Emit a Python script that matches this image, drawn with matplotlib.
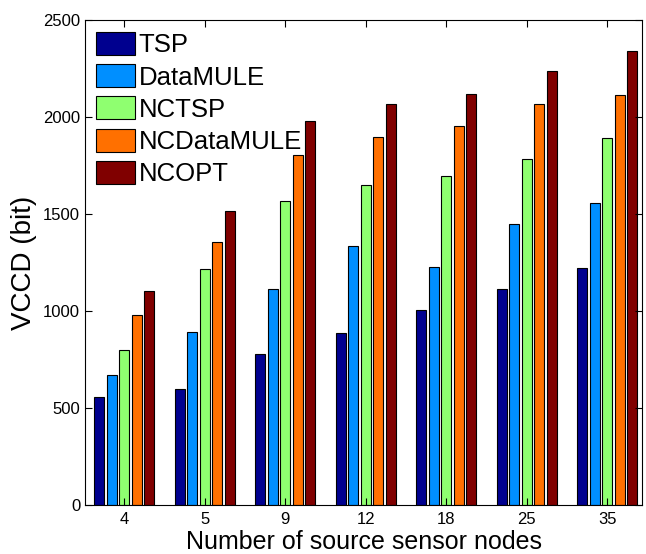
import matplotlib
matplotlib.use("Agg")
import matplotlib.pyplot as plt
import numpy as np

# Datos
grupos = ["4", "5", "9", "12", "18", "25", "35"]
series = ["TSP", "DataMULE", "NCTSP", "NCDataMULE", "NCOPT"]
tsp = [555, 600, 780, 887, 1003, 1115, 1222]
datamule = [668, 890, 1115, 1335, 1225, 1448, 1558]
nctsp = [800, 1215, 1568, 1652, 1695, 1782, 1890]
ncdatamule = [980, 1355, 1802, 1897, 1955, 2066, 2115]
ncopt = [1105, 1518, 1980, 2066, 2119, 2239, 2339]
colores = ["#00008F", "#008FFF", "#8FFF70", "#FF7000", "#800000"]

plt.rcParams["font.family"] = ["Liberation Sans", "DejaVu Sans"]

fig = plt.figure(figsize=(6.46, 5.54), dpi=100)
ax = fig.add_axes([85 / 646, 49 / 554, 557 / 646, 485 / 554])

x = np.arange(1, len(grupos) + 1)
paso = 0.155
ancho = 0.125
for i, (nombre, vals) in enumerate(zip(series, [tsp, datamule, nctsp, ncdatamule, ncopt])):
    ax.bar(x + (i - 2) * paso, vals, width=ancho, color=colores[i],
           edgecolor="black", linewidth=0.8, label=nombre)

ax.set_xlim(0.513, 7.43)
ax.set_ylim(0, 2500)
ax.set_xticks(x)
ax.set_xticklabels(grupos)
ax.set_yticks(np.arange(0, 2501, 500))
ax.tick_params(direction="in", top=True, right=True, labelsize=12, length=5)
ax.tick_params(axis="x", pad=5)
ax.set_xlabel("Number of source sensor nodes", fontsize=18, labelpad=2)
ax.set_ylabel("VCCD (bit)", fontsize=20, labelpad=4)

ax.legend(loc="upper left", bbox_to_anchor=(11 / 557, 1 - 12 / 485), frameon=False,
          fontsize=18.5, handlelength=1.5, handleheight=1.0, labelspacing=0.27,
          handletextpad=0.15, borderpad=0, borderaxespad=0)

plt.savefig("out.png", dpi=100)
plt.close()
